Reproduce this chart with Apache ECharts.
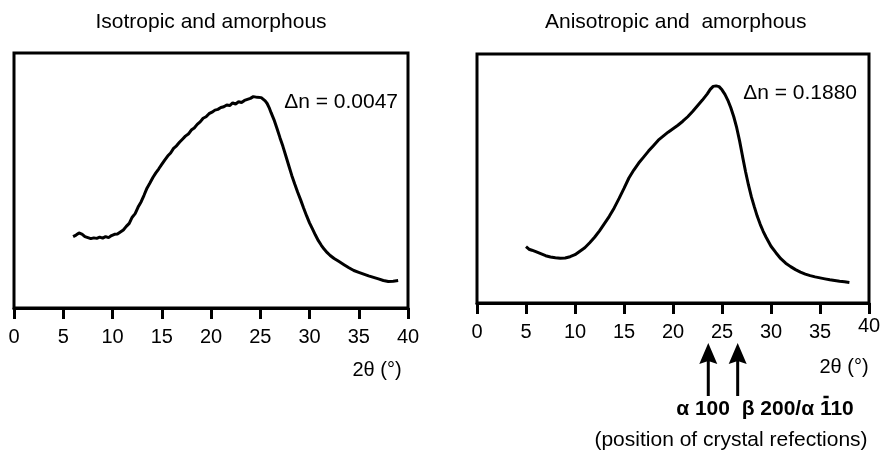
<!DOCTYPE html>
<html><head><meta charset="utf-8">
<script src="https://cdn.jsdelivr.net/npm/echarts@6/dist/echarts.min.js"></script>
<style>html,body{margin:0;padding:0;background:#fff}#c{width:888px;height:454px}</style>
</head><body><div id="c"></div>
<script>
// ---- data ----
const leftX = [6.0,6.3,6.6,6.9,7.2,7.5,7.8,8.1,8.4,8.7,9.0,9.3,9.6,9.9,10.2,10.5,10.8,11.1,11.4,11.7,12.0,12.3,12.6,12.9,13.2,13.5,13.8,14.1,14.4,14.7,15.0,15.3,15.6,15.9,16.2,16.5,16.8,17.1,17.4,17.7,18.0,18.3,18.6,18.9,19.2,19.5,19.8,20.1,20.4,20.7,21.0,21.3,21.6,21.9,22.2,22.5,22.8,23.1,23.4,23.7,24.0,24.3,24.5,24.7,24.9,25.1,25.3,25.5,25.7,25.9,26.1,26.4,26.7,27.0,27.3,27.6,27.9,28.2,28.5,28.8,29.1,29.4,29.7,30.0,30.3,30.6,30.9,31.2,31.5,31.8,32.1,32.5,33.0,33.5,34.0,34.5,35.0,35.5,36.0,36.5,37.0,37.5,38.0,38.5,39.0];
const leftY = [28.0,28.6,29.4,29.0,28.0,27.6,27.2,27.5,27.3,27.8,27.4,28.0,27.6,28.4,28.9,29.0,29.8,30.6,32.0,33.2,35.6,37.0,39.6,41.6,44.2,47.0,49.0,51.2,53.0,54.6,56.3,58.0,59.6,60.8,62.6,63.6,65.0,66.2,67.4,68.2,69.8,70.6,72.0,73.0,74.4,75.0,76.2,76.8,77.6,77.9,78.6,78.9,79.6,79.4,80.4,80.0,80.9,80.6,81.4,81.8,82.2,82.9,83.3,82.6,82.8,82.5,82.0,81.2,80.2,78.6,76.6,73.8,70.4,66.8,63.4,59.6,55.8,52.0,48.6,45.4,42.4,39.2,36.2,33.4,31.0,28.6,26.4,24.6,23.0,21.7,20.6,19.4,18.2,17.0,15.8,14.7,14.0,13.3,12.6,12.0,11.4,10.8,10.4,10.5,10.8];

const rightX = [5.0,5.3,5.6,6.0,6.5,7.0,7.5,8.0,8.5,9.0,9.5,10.0,10.5,11.0,11.5,12.0,12.5,13.0,13.5,14.0,14.5,15.0,15.5,16.0,16.5,17.0,17.5,18.0,18.5,19.0,19.5,20.0,20.5,21.0,21.5,22.0,22.5,23.0,23.5,23.8,24.1,24.4,24.7,25.0,25.3,25.6,25.9,26.2,26.5,26.8,27.1,27.4,27.7,28.0,28.3,28.6,28.9,29.2,29.5,30.0,30.5,31.0,31.5,32.0,32.5,33.0,33.5,34.0,34.5,35.0,35.5,36.0,36.5,37.0,37.5,38.0];
const rightY = [22.6,21.6,21.2,20.6,19.8,19.0,18.5,18.2,18.0,18.1,18.6,19.4,20.8,22.2,24.2,26.4,29.0,31.9,34.8,38.2,42.0,46.0,50.2,53.4,56.2,58.6,61.0,63.2,65.4,67.0,68.6,70.0,71.4,73.0,74.8,76.9,79.2,81.5,84.0,85.8,87.0,87.2,86.9,85.6,83.8,81.4,78.4,74.8,70.4,65.0,58.8,52.8,47.4,42.6,38.6,34.8,31.6,28.8,26.4,22.8,20.2,17.8,16.0,14.6,13.4,12.4,11.6,11.0,10.5,10.1,9.7,9.3,9.0,8.7,8.5,8.2];

const xMin = 0, xMax = 40, xStep = 5;
const leftTitle = 'Isotropic and amorphous';
const rightTitle = 'Anisotropic and  amorphous';
const leftDn = 'Δn = 0.0047';
const rightDn = 'Δn = 0.1880';
const axisName = '2θ (°)';
const reflectionPos = [23.6, 26.6];
const reflectionLabelA = 'α 100  β 200/α ';
const reflectionLabelB = '110';   // first "1" carries an overbar (1̄10)
const caption = '(position of crystal refections)';

// ---- chart ----
const FF = '"Liberation Sans", Arial, Helvetica, sans-serif';
const chart = echarts.init(document.getElementById('c'), null, {renderer: 'canvas'});

function xAx(gi, hideMax) {
  return {
    gridIndex: gi, type: 'value', min: xMin, max: xMax, interval: xStep,
    axisLine: {show: true, onZero: false, lineStyle: {color: '#000', width: 3}},
    axisTick: {show: true, inside: false, length: 11, lineStyle: {color: '#000', width: 3}},
    axisLabel: {color: '#000', fontSize: 20, fontFamily: FF, margin: 19, showMinLabel: true, showMaxLabel: true,
      formatter: v => (hideMax && v === xMax) ? '' : String(v)},
    splitLine: {show: false}
  };
}
function yAx(gi) { return {gridIndex: gi, type: 'value', min: 0, max: 100, show: false}; }
const zip = (xs, ys) => xs.map((x, i) => [x, ys[i]]);

chart.setOption({
  animation: false,
  backgroundColor: '#fff',
  grid: [
    {left: 14, right: 480, top: 53, bottom: 146, show: true, borderColor: '#000', borderWidth: 3, backgroundColor: 'transparent'},
    {left: 477, right: 19, top: 54, bottom: 151, show: true, borderColor: '#000', borderWidth: 3, backgroundColor: 'transparent'}
  ],
  xAxis: [xAx(0, false), xAx(1, true)],
  yAxis: [yAx(0), yAx(1)],
  series: [
    {type: 'line', xAxisIndex: 0, yAxisIndex: 0, data: zip(leftX, leftY), showSymbol: false, lineStyle: {color: '#000', width: 3}},
    {type: 'line', xAxisIndex: 1, yAxisIndex: 1, data: zip(rightX, rightY), showSymbol: false, lineStyle: {color: '#000', width: 3}}
  ]
});

const px = (axis, v) => chart.convertToPixel({xAxisIndex: axis}, v);
const txt = (x, y, text, opts) => Object.assign({
  type: 'text', x: x, y: y, silent: true,
  style: Object.assign({text: text, fill: '#000', font: '21px ' + FF, textAlign: 'center', textVerticalAlign: 'middle'}, opts || {})
});

// measure the bold label parts to place the overbar on the first "1"
const boldFont = 'bold 21px ' + FF;
const mctx = document.createElement('canvas').getContext('2d');
mctx.font = boldFont;
const wA = mctx.measureText(reflectionLabelA).width;
const wB = mctx.measureText(reflectionLabelB).width;
const w1 = mctx.measureText('1').width;
const labelCx = 765;
const startX = labelCx - (wA + wB) / 2;

const graphics = [
  txt(211, 22, leftTitle),
  txt(545, 22, rightTitle, {textAlign: 'left'}),
  txt(398, 102, leftDn, {textAlign: 'right'}),
  txt(857, 93, rightDn, {textAlign: 'right'}),
  txt(377, 370, axisName, {font: '20px ' + FF}),
  txt(844, 367, axisName, {font: '20px ' + FF}),
  txt(px(1, xMax), 326, String(xMax), {font: '20px ' + FF}),
  txt(startX, 409, reflectionLabelA, {font: boldFont, textAlign: 'left'}),
  txt(startX + wA, 409, reflectionLabelB, {font: boldFont, textAlign: 'left'}),
  {type: 'line', silent: true, shape: {x1: startX + wA + w1 * 0.3, y1: 397, x2: startX + wA + w1 * 0.75, y2: 397}, style: {stroke: '#000', lineWidth: 2.5}},
  txt(731, 440, caption)
];
reflectionPos.forEach(v => {
  const x = px(1, v);
  graphics.push({type: 'line', silent: true, shape: {x1: x, y1: 396, x2: x, y2: 358}, style: {stroke: '#000', lineWidth: 3}});
  graphics.push({type: 'polygon', silent: true, shape: {points: [[x, 343], [x + 9, 364], [x, 361], [x - 9, 364]]}, style: {fill: '#000'}});
});
chart.setOption({graphic: graphics});
</script>
</body></html>
